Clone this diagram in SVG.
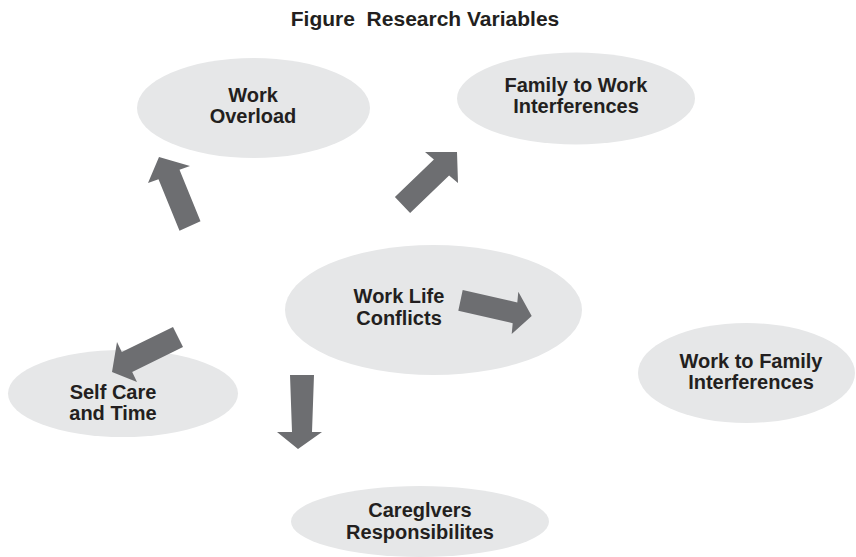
<svg xmlns="http://www.w3.org/2000/svg" width="856" height="557" viewBox="0 0 856 557">
<style>
.n{fill:#e6e7e8;stroke:none}
.t{font-family:"Liberation Sans",Arial,sans-serif;font-weight:bold;font-size:20px;fill:#231f20;text-anchor:middle}
.h{font-size:21px;white-space:pre}
.a{fill:#6d6e71;stroke:none}
</style>
<rect width="856" height="557" fill="#ffffff"/>
<text class="t h" x="425" y="26" xml:space="preserve">Figure  Research Variables</text>
<g id="work-overload">
<ellipse class="n" cx="253.5" cy="108" rx="116.5" ry="50"/>
<text class="t" x="253" y="102">Work</text>
<text class="t" x="253" y="123">Overload</text>
</g>
<g id="family-to-work">
<ellipse class="n" cx="576" cy="98.5" rx="119" ry="46"/>
<text class="t" x="576" y="92">Family to Work</text>
<text class="t" x="576" y="113">Interferences</text>
</g>
<g id="work-life-conflicts">
<ellipse class="n" cx="433.5" cy="310" rx="148.5" ry="65"/>
<text class="t" x="399" y="303">Work Life</text>
<text class="t" x="399" y="325">Conflicts</text>
</g>
<g id="self-care">
<ellipse class="n" cx="123" cy="393.5" rx="115" ry="43.5"/>
<text class="t" x="113" y="399">Self Care</text>
<text class="t" x="113" y="420">and Time</text>
</g>
<g id="work-to-family">
<ellipse class="n" cx="746.5" cy="373" rx="108.5" ry="50"/>
<text class="t" x="751" y="368">Work to Family</text>
<text class="t" x="751" y="389">Interferences</text>
</g>
<g id="caregivers">
<ellipse class="n" cx="420" cy="521.5" rx="129" ry="35.5"/>
<text class="t" x="420" y="517">Careglvers</text>
<text class="t" x="420" y="539">Responsibilites</text>
</g>
<g id="connectors">
<polygon class="a" points="179.5,230.7 158.5,179.2 148,183 159,157 190,166 179.5,169.8 200.5,221.3"/>
<polygon class="a" points="394.9,197.1 433.9,159.6 425,152 457,152 458,183 449.1,175.4 410.1,212.9"/>
<polygon class="a" points="462.7,290 517.3,302.4 518.3,291.7 531.7,316 511.7,334 512.7,323.2 458.3,310.7"/>
<polygon class="a" points="173,327 121.8,352.1 117,342 112,372 137,382 132.2,371.9 183,347"/>
<polygon class="a" points="290,375 314,375 312,432 322,432 298,449 277,432 292,432"/>
</g>
</svg>
